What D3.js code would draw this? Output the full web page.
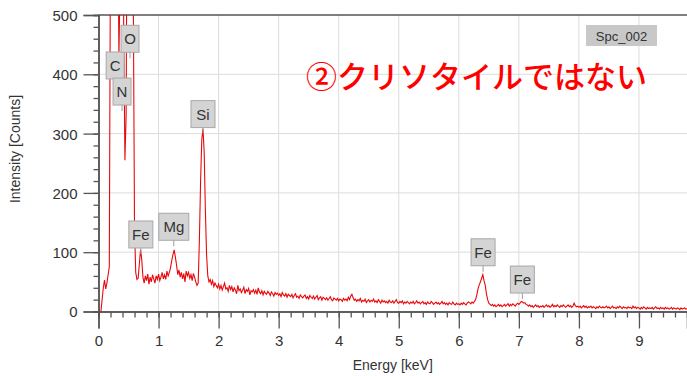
<!DOCTYPE html>
<meta charset="utf-8">
<style>
body { margin: 0; background: #fff; }
svg { display: block; }
.tick text { font: 15px "Liberation Sans", sans-serif; fill: #333; }
.axis-title { font: 14px "Liberation Sans", sans-serif; fill: #333; }
.lbl text { font: 15px "Liberation Sans", sans-serif; fill: #333; text-anchor: middle; }
</style>
<body>
<div id="chart"></div>
<script src="https://d3js.org/d3.v7.min.js"></script>
<script>
// spectrum: counts per 0.02 keV channel
var step = 0.02;
var counts = [
  0, 0, 0, 20, 40, 53, 38, 48, 62, 75,
  650, 1300, 1800, 2000, 1900, 1300, 700, 430, 560, 720,
  690, 480, 255, 330, 800, 1800, 2600, 2500, 1500, 520,
  140, 66, 54, 56, 80, 104, 88, 58, 48, 60,
  52, 63, 46, 58, 50, 62, 55, 48, 60, 54,
  63, 52, 58, 66, 55, 62, 54, 68, 60, 66,
  74, 86, 96, 104, 92, 78, 62, 70, 58, 66,
  55, 64, 50, 68, 60, 66, 56, 62, 52, 64,
  58, 50, 44, 48, 120, 220, 290, 308, 268, 170,
  95, 60, 50, 54, 46, 52, 42, 48, 44, 40,
  46, 38, 44, 36, 42, 48, 38, 40, 34, 44,
  37, 42, 33, 40, 36, 30, 44, 35, 38, 32,
  36, 41, 30, 37, 34, 39, 28, 35, 33, 37,
  31, 36, 29, 40, 33, 30, 35, 28, 34, 31,
  29, 34, 31, 27, 33, 30, 26, 32, 29, 31,
  27, 30, 25, 32, 28, 26, 30, 24, 29, 27,
  25, 29, 23, 27, 30, 24, 26, 22, 28, 25,
  23, 26, 28, 22, 25, 21, 27, 24, 22, 26,
  21, 24, 27, 20, 23, 25, 19, 24, 22, 20,
  23, 19, 22, 25, 20, 18, 23, 21, 19, 22,
  18, 21, 20, 17, 22, 19, 21, 18, 24, 20,
  26, 29, 23, 19, 21, 17, 20, 18, 22, 16,
  19, 17, 21, 15, 18, 20, 16, 19, 17, 21,
  16, 18, 15, 20, 17, 14, 19, 16, 18, 15,
  17, 14, 19, 16, 15, 18, 14, 17, 20, 15,
  14, 17, 15, 18, 13, 16, 14, 17, 15, 13,
  16, 14, 17, 13, 15, 18, 14, 16, 13, 15,
  17, 13, 15, 12, 16, 14, 13, 17, 15, 12,
  14, 16, 13, 15, 12, 14, 17, 13, 15, 12,
  14, 11, 15, 13, 12, 16, 13, 11, 14, 12,
  13, 11, 14, 12, 15, 13, 11, 14, 16, 15,
  13, 16, 14, 17, 20, 28, 38, 45, 50, 56,
  62, 52, 44, 30, 20, 14, 12, 10, 12, 9,
  11, 8, 10, 12, 9, 11, 8, 10, 12, 9,
  11, 13, 9, 12, 10, 13, 11, 9, 12, 14,
  12, 14, 17, 16, 14, 15, 12, 11, 9, 11,
  8, 10, 7, 9, 11, 8, 10, 7, 9, 8,
  10, 7, 9, 11, 8, 10, 7, 9, 12, 8,
  10, 8, 11, 9, 7, 10, 8, 11, 9, 7,
  9, 11, 8, 10, 7, 9, 14, 10, 8, 9,
  7, 9, 6, 8, 10, 7, 9, 6, 8, 7,
  9, 6, 8, 7, 5, 8, 6, 9, 7, 6,
  8, 6, 7, 9, 6, 8, 5, 7, 9, 6,
  7, 5, 8, 6, 9, 7, 5, 8, 6, 7,
  5, 8, 6, 7, 5, 9, 6, 8, 5, 7,
  6, 4, 7, 5, 8, 6, 4, 7, 5, 6,
  5, 7, 4, 6, 8, 5, 6, 4, 7, 5,
  6, 4, 7, 5, 6, 4, 5, 7, 4, 6,
  5, 4, 6, 5, 3, 6, 4, 5, 6, 4,
  5
];

// peak labels
var labelNames = ["C", "N", "O", "Fe", "Mg", "Si", "Fe", "Fe"];
var labelEnergy = [0.277, 0.392, 0.525, 0.705, 1.254, 1.740, 6.404, 7.058];
var labelCount = [382, 338, 427, 97, 110, 300, 67, 21];

var xTicks = [0, 1, 2, 3, 4, 5, 6, 7, 8, 9];
var yTicks = [0, 100, 200, 300, 400, 500];

var spectrumName = "Spc_002";
var note = "②クリソタイルではない";

var width = 687, height = 376;
var margin = {top: 15, right: 0, bottom: 64.5, left: 98.5};
var w = width - margin.left - margin.right,
    h = height - margin.top - margin.bottom;

var x = d3.scaleLinear().domain([0, 9.8]).range([0, w]);
var y = d3.scaleLinear().domain([0, 500]).range([h, 0]);

var svg = d3.select("#chart").append("svg")
  .attr("width", width)
  .attr("height", height);

var g = svg.append("g")
  .attr("transform", "translate(" + margin.left + "," + margin.top + ")");

// grid
g.append("g").selectAll("line")
  .data(xTicks.slice(1))
  .enter().append("line")
  .attr("x1", function(d) { return x(d); })
  .attr("x2", function(d) { return x(d); })
  .attr("y1", 0).attr("y2", h)
  .attr("stroke", "#dcdcdc");
g.append("g").selectAll("line")
  .data(yTicks.slice(1, -1))
  .enter().append("line")
  .attr("y1", function(d) { return y(d); })
  .attr("y2", function(d) { return y(d); })
  .attr("x1", 0).attr("x2", w)
  .attr("stroke", "#dcdcdc");

// minor ticks
var xMinor = d3.range(0, 49).map(function(i) { return i * 0.2; });
var yMinor = d3.range(0, 26).map(function(i) { return i * 20; });

var xAxisMinor = g.append("g")
  .attr("transform", "translate(0," + h + ")")
  .call(d3.axisBottom(x).tickValues(xMinor).tickSize(6).tickFormat(""));
var yAxisMinor = g.append("g")
  .call(d3.axisLeft(y).tickValues(yMinor).tickSize(5).tickFormat(""));

var xAxis = g.append("g")
  .attr("transform", "translate(0," + h + ")")
  .call(d3.axisBottom(x).tickValues(xTicks).tickSize(17).tickPadding(7).tickFormat(d3.format("d")));
var yAxis = g.append("g")
  .call(d3.axisLeft(y).tickValues(yTicks).tickSize(15).tickPadding(6));

[xAxisMinor, yAxisMinor, xAxis, yAxis].forEach(function(a) {
  a.selectAll("line").attr("stroke", "#555").attr("stroke-width", 1.3);
  a.select(".domain").attr("stroke", "#555").attr("stroke-width", 1.5);
});
yAxis.selectAll(".tick text").attr("dy", "0.36em");

// top frame
g.append("line")
  .attr("x1", 0).attr("x2", w)
  .attr("y1", 0).attr("y2", 0)
  .attr("stroke", "#555").attr("stroke-width", 1.5);

// spectrum
svg.append("clipPath").attr("id", "clip")
  .append("rect").attr("x", 0).attr("y", 0).attr("width", w).attr("height", h);

var line = d3.line()
  .x(function(d, i) { return x(i * step); })
  .y(function(d) { return y(d); });

g.append("path")
  .datum(counts)
  .attr("clip-path", "url(#clip)")
  .attr("fill", "none")
  .attr("stroke", "#e8080c")
  .attr("stroke-width", 1.1)
  .attr("d", line);

// peak labels
var lbl = g.selectAll(".lbl")
  .data(labelNames)
  .enter().append("g")
  .attr("class", "lbl")
  .attr("transform", function(d, i) {
    return "translate(" + x(labelEnergy[i]) + "," + y(labelCount[i]) + ")";
  });

lbl.append("line")
  .attr("y1", 0).attr("y2", -8)
  .attr("stroke", "#9a9a9a");

lbl.each(function(d) {
  var s = d3.select(this);
  var bw = d.length > 1 ? (d == "Mg" ? 30 : 24) : 18;
  s.append("rect")
    .attr("x", -bw / 2).attr("y", -33)
    .attr("width", bw).attr("height", 27)
    .attr("fill", "#d4d4d4")
    .attr("stroke", "#a8a8a8");
  s.append("text")
    .attr("y", -14)
    .text(d);
});

// spectrum name box
svg.append("rect")
  .attr("x", 586).attr("y", 25)
  .attr("width", 71).attr("height", 21)
  .attr("fill", "#c8c8c8");
svg.append("text")
  .attr("x", 621.5).attr("y", 40.5)
  .attr("text-anchor", "middle")
  .style("font", "13px 'Liberation Sans', sans-serif")
  .attr("fill", "#333")
  .text(spectrumName);

// note
svg.append("text")
  .attr("x", 306).attr("y", 88)
  .style("font", "500 31px 'Noto Sans CJK JP', sans-serif")
  .attr("fill", "#ff0000")
  .text(note);

// axis titles
svg.append("text")
  .attr("class", "axis-title")
  .attr("x", margin.left + x(4.9)).attr("y", 370)
  .attr("text-anchor", "middle")
  .text("Energy [keV]");
svg.append("text")
  .attr("class", "axis-title")
  .attr("transform", "translate(20,149) rotate(-90)")
  .attr("text-anchor", "middle")
  .text("Intensity [Counts]");
</script>
</body>
